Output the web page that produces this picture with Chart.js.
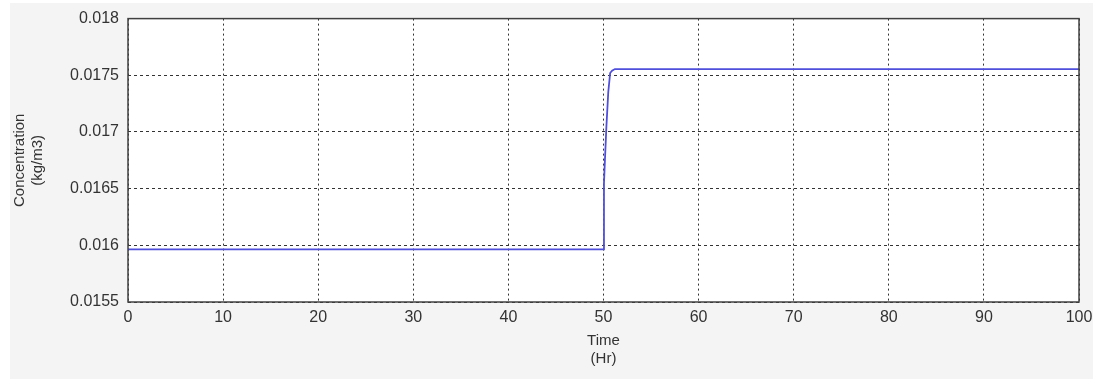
<!DOCTYPE html>
<html>
<head>
<meta charset="utf-8">
<script src="https://cdn.jsdelivr.net/npm/chart.js@4"></script>
<style>
  body { margin: 0; background: #fff; }
  #wrap { width: 1101px; height: 379px; }
</style>
</head>
<body>
<div id="wrap"><canvas id="my-chart" width="1101" height="379"></canvas></div>
<script>
'use strict';

// ******* DATA ********
let timeHr = [0, 10, 20, 30, 40, 49.9, 50, 50.05, 50.15, 50.3, 50.5, 50.7, 50.9, 51.2, 52, 60, 70, 80, 90, 100];
let concKg = [0.015965, 0.015965, 0.015965, 0.015965, 0.015965, 0.015965, 0.015965, 0.01655, 0.01675, 0.01704, 0.01735, 0.01752, 0.01754, 0.017555, 0.017555, 0.017555, 0.017555, 0.017555, 0.017555, 0.017555];
let xTicks = [0, 10, 20, 30, 40, 50, 60, 70, 80, 90, 100];
let yTicks = [0.0155, 0.016, 0.0165, 0.017, 0.0175, 0.018];
let yTickLabels = ['0.0155', '0.016', '0.0165', '0.017', '0.0175', '0.018'];

let points = [];
for (let i = 0; i < timeHr.length; i++) {
  points.push({ x: timeHr[i], y: concKg[i] });
}

// ******* PLUGINS ********
let frameBg = {
  id: 'frameBg',
  beforeDraw(chart) {
    let c = chart.ctx;
    let a = chart.chartArea;
    c.save();
    c.fillStyle = '#f4f4f4';
    c.fillRect(10, 3, 1083, 376);
    c.fillStyle = '#ffffff';
    c.fillRect(a.left, a.top, a.right - a.left, a.bottom - a.top);
    c.restore();
  },
  afterDraw(chart) {
    let c = chart.ctx;
    let a = chart.chartArea;
    c.save();
    c.strokeStyle = '#404040';
    c.lineWidth = 1.5;
    c.strokeRect(a.left, a.top, a.right - a.left, a.bottom - a.top);
    c.restore();
  }
};

let ctx = document.getElementById('my-chart');
let tickFont = { family: 'Liberation Sans', size: 16 };
let titleFont = { family: 'Liberation Sans', size: 15 };

new Chart(ctx, { //eslint-disable-line
  type: 'scatter',
  data: {
    datasets: [{
      data: points,
      showLine: true,
      borderColor: '#4f4fdc',
      borderWidth: 1.8,
      pointRadius: 0,
      tension: 0
    }]
  },
  options: {
    responsive: false,
    animation: false,
    layout: { padding: { top: 18, right: 22, left: 11, bottom: 11 } },
    plugins: { legend: { display: false }, tooltip: { enabled: false } },
    scales: {
      x: {
        type: 'linear',
        min: 0,
        max: 100,
        afterBuildTicks(scale) { scale.ticks = xTicks.map(v => ({ value: v })); },
        afterFit(scale) { scale.height = 66; },
        grid: { color: '#333', lineWidth: 1, drawTicks: false },
        border: { display: false, dash: [2, 3] },
        ticks: { color: '#333', font: tickFont, padding: 6, maxRotation: 0 },
        title: { display: true, text: ['Time', '(Hr)'], color: '#333', font: titleFont, padding: { top: 4, bottom: 0 } }
      },
      y: {
        min: 0.0155,
        max: 0.018,
        afterBuildTicks(scale) { scale.ticks = yTicks.map(v => ({ value: v })); },
        afterFit(scale) { scale.width = 117; },
        grid: { color: '#333', lineWidth: 1, drawTicks: false },
        border: { display: false, dash: [3, 3] },
        ticks: {
          color: '#333',
          font: tickFont,
          padding: 9,
          callback(value) {
            let idx = yTicks.findIndex(t => Math.abs(t - value) < 1e-9);
            return idx >= 0 ? yTickLabels[idx] : '';
          }
        },
        title: { display: true, text: ['Concentration', '(kg/m3)'], color: '#333', font: titleFont, padding: { top: 0, bottom: 4 } }
      }
    }
  },
  plugins: [frameBg]
});
</script>
</body>
</html>
